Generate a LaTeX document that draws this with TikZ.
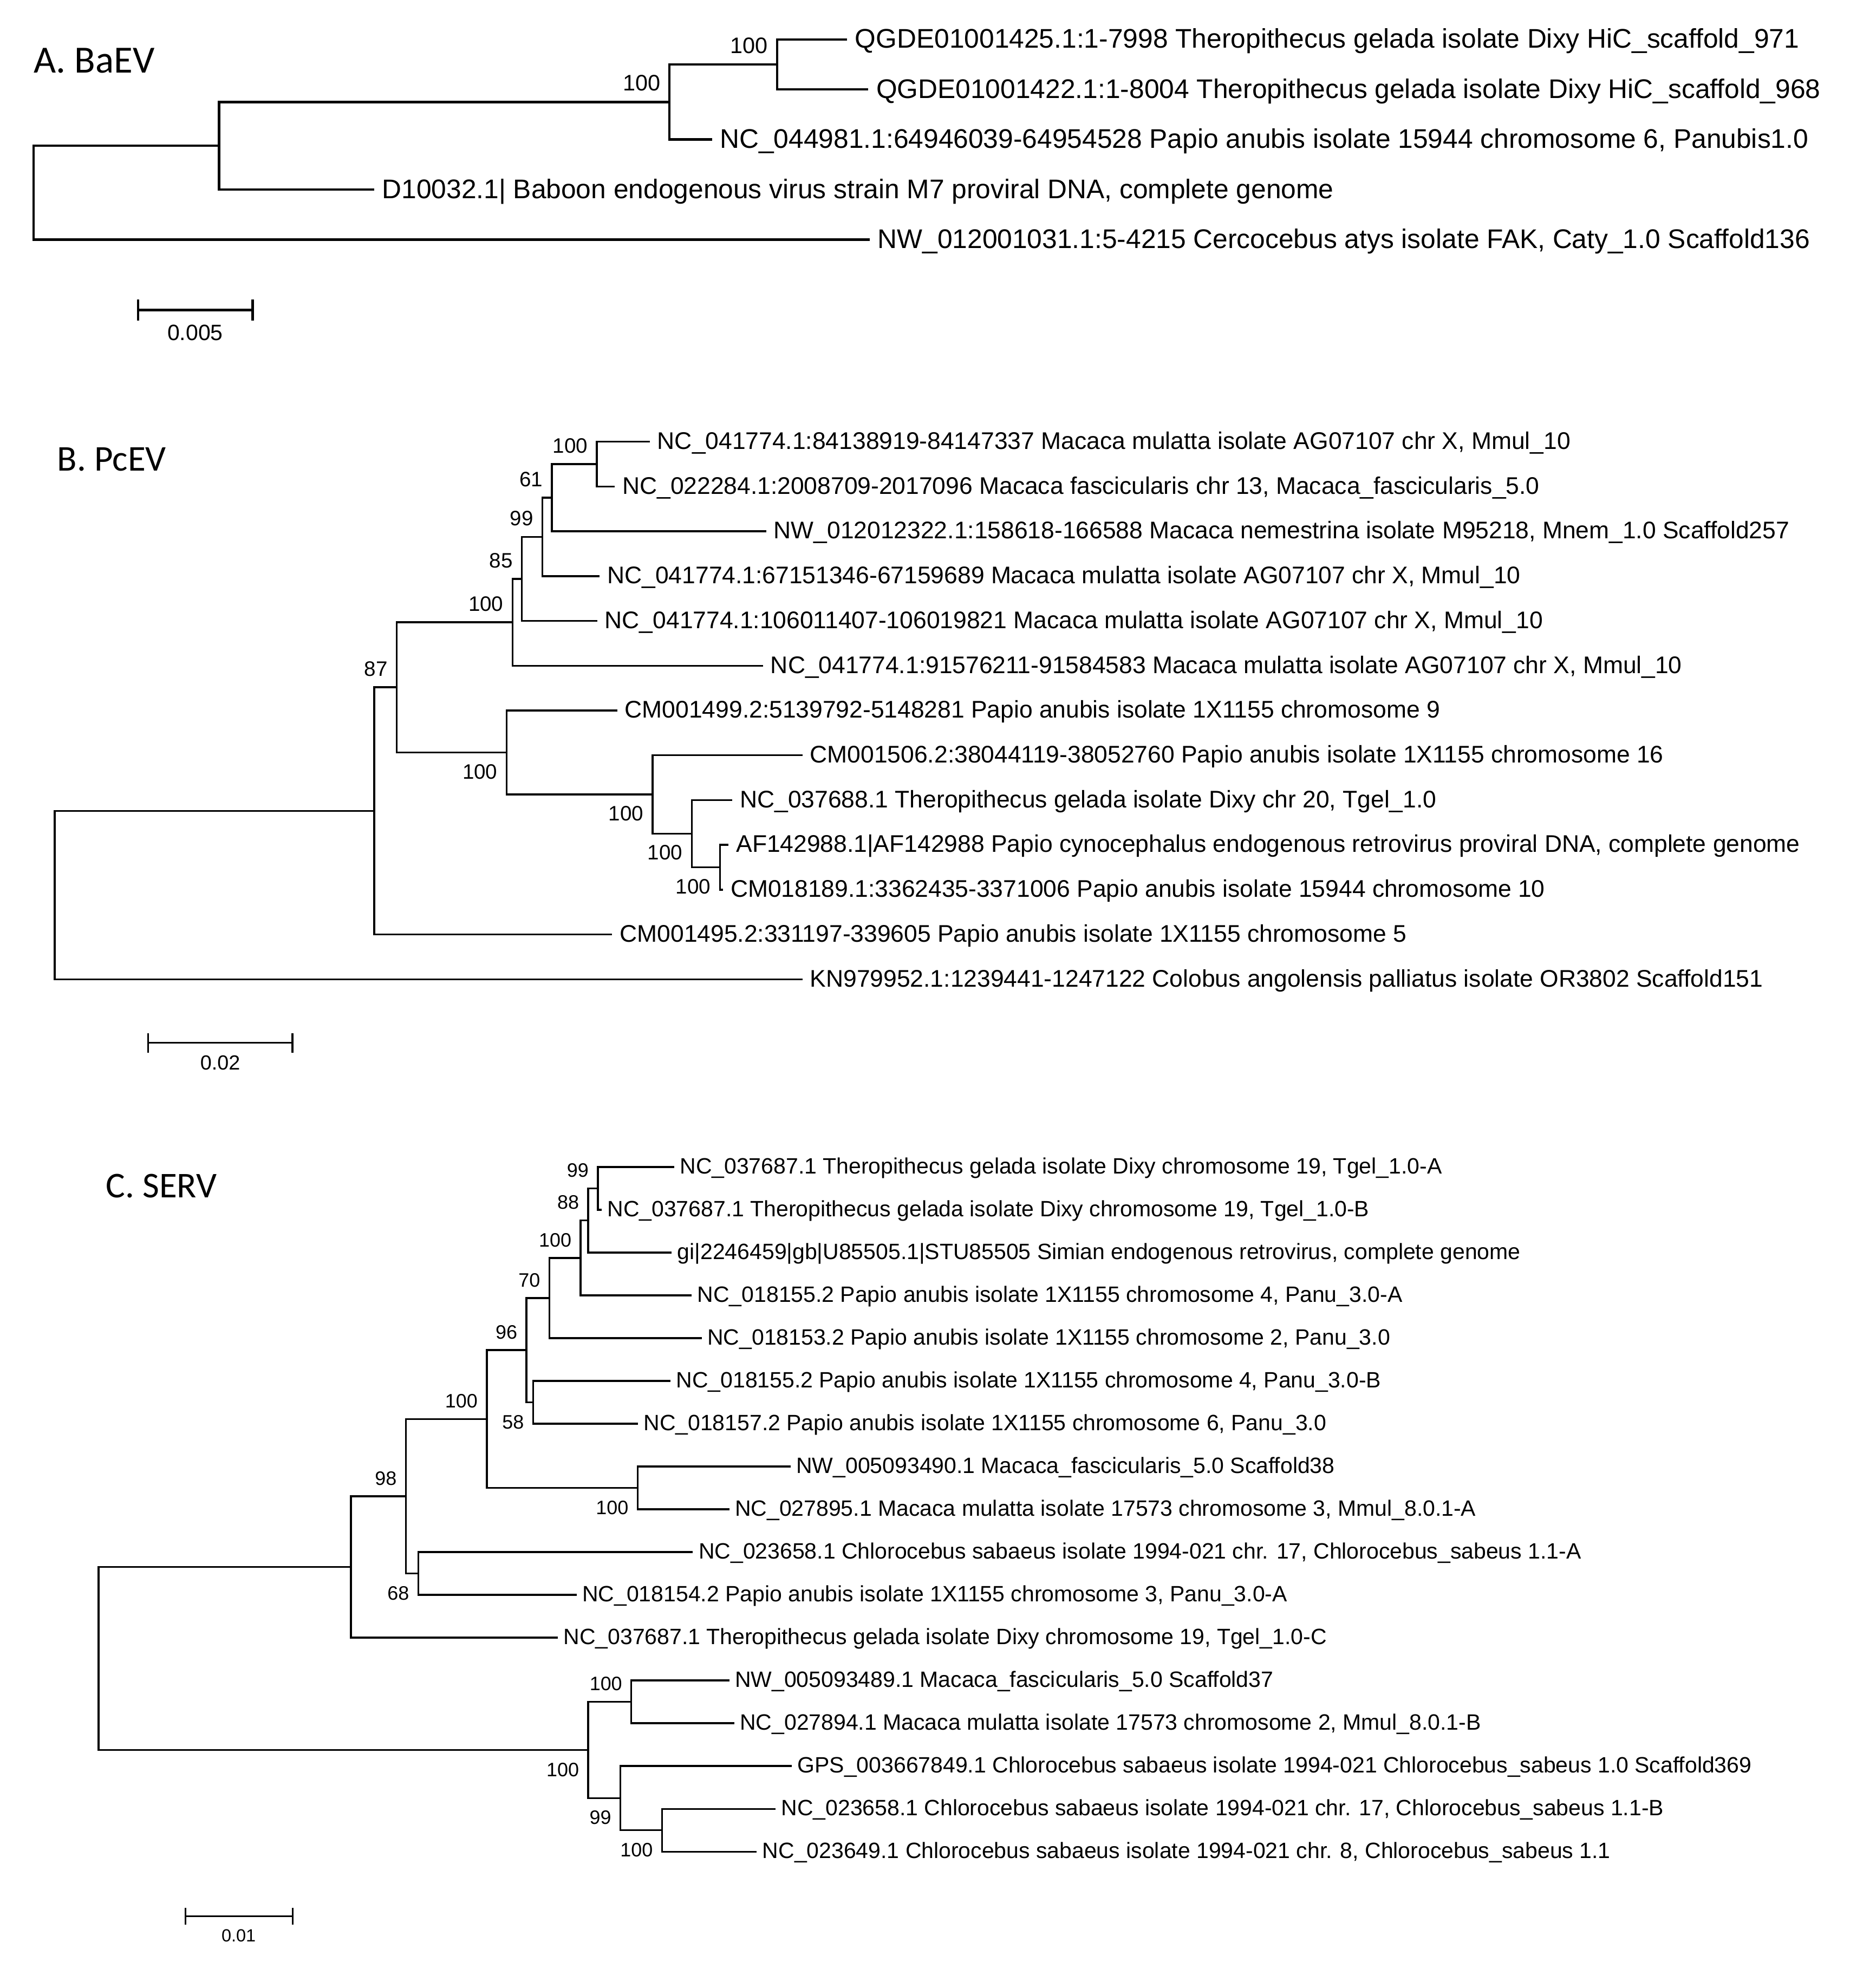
\documentclass[tikz,border=0pt]{standalone}
\usepackage{fontspec}
\setmainfont{Liberation Sans}
\newfontfamily\titlefont{Carlito}
\newcommand\tleaf[5]{\coordinate (#1) at (#2,#3); \node[#4] (#1t) at (#1) {#5};}
\newcommand\bsup[3]{\node[#1, anchor=base east] (#2s) at ([shift={(-7,-9)}]#2) {#3};}
\newcommand\bsdn[3]{\node[#1, anchor=base east] (#2s) at ([shift={(-7,21)}]#2) {#3};}
\tikzset{
  treeA/.style={line width=1.1pt, line cap=rect},
  tree/.style={line width=0.85pt, line cap=rect},
  leafA/.style={anchor=base west, inner sep=0pt, xshift=0.14cm, yshift=-0.14cm, font=\fontsize{12.25}{14}\selectfont},
  leafB/.style={anchor=base west, inner sep=0pt, xshift=0.13cm, yshift=-0.12cm, font=\fontsize{10.94}{13}\selectfont},
  leafC/.style={anchor=base west, inner sep=0pt, xshift=0.10cm, yshift=-0.11cm, font=\fontsize{10.09}{12}\selectfont},
  bsA/.style={inner sep=0pt, font=\fontsize{10.2}{12}\selectfont},
  bsB/.style={inner sep=0pt, font=\fontsize{9.5}{11}\selectfont},
  bsC/.style={inner sep=0pt, font=\fontsize{8.85}{10}\selectfont},
  ttl/.style={anchor=west, inner sep=0pt, font=\titlefont\fontsize{17}{20}\selectfont},
  sclbl/.style={inner sep=0pt},
}
\begin{document}
\begin{tikzpicture}[x=0.02cm,y=-0.02cm]
\useasboundingbox (0,0) rectangle (1499,1568);

% ================= Panel A =================
\node[ttl, font=\titlefont\fontsize{17.5}{20}\selectfont] (tA) at (26.7,48.3) {A. BaEV};
\coordinate (rA) at (26.8,154);
\coordinate (nA1) at (175,116.5);
\coordinate (nA2) at (535,81.5);
\coordinate (nA3) at (621,51.5);
\tleaf{a1}{676}{31.5}{leafA}{QGDE01001425.1:1-7998 Theropithecus gelada isolate Dixy HiC\_scaffold\_971}
\tleaf{a2}{693}{71.5}{leafA}{QGDE01001422.1:1-8004 Theropithecus gelada isolate Dixy HiC\_scaffold\_968}
\tleaf{a3}{568}{111.5}{leafA}{NC\_044981.1:64946039-64954528 Papio anubis isolate 15944 chromosome 6, Panubis1.0}
\tleaf{a4}{298}{151.5}{leafA}{D10032.1| Baboon endogenous virus strain M7 proviral DNA, complete genome}
\tleaf{a5}{694}{191.5}{leafA}{NW\_012001031.1:5-4215 Cercocebus atys isolate FAK, Caty\_1.0 Scaffold136}
\draw[treeA] (rA) |- (nA1) (rA) |- (a5)
  (nA1) |- (nA2) (nA1) |- (a4)
  (nA2) |- (nA3) (nA2) |- (a3)
  (nA3) |- (a1) (nA3) |- (a2);
\bsup{bsA}{nA3}{100}
\bsup{bsA}{nA2}{100}
% scale A
\coordinate (sA1) at (110.3,247.8);
\coordinate (sA2) at (201.9,247.8);
\draw[treeA] (sA1) -- (sA2)
  ([shift={(0,-7.5)}]sA1) -- ([shift={(0,7.5)}]sA1)
  ([shift={(0,-7.5)}]sA2) -- ([shift={(0,7.5)}]sA2);
\node[sclbl, font=\fontsize{10.1}{12}\selectfont] (sAl) at (156,266) {0.005};

% ================= Panel B =================
\node[ttl, font=\titlefont\fontsize{16.5}{20}\selectfont] (tB) at (45.5,367) {B. PcEV};
\coordinate (ba) at (477,370.9);
\coordinate (bb) at (441,397.75);
\coordinate (bc) at (433.5,429.1);
\coordinate (bd) at (417,462.6);
\coordinate (be) at (409.6,497.3);
\coordinate (bk) at (575.3,693.1);
\coordinate (bj) at (552.8,666.25);
\coordinate (bi) at (521.6,634.9);
\coordinate (bf) at (404.8,601.35);
\coordinate (bg) at (317,549.3);
\coordinate (bh) at (299,648.05);
\coordinate (rB) at (43.8,715.3);
\tleaf{b1}{518.5}{353}{leafB}{NC\_041774.1:84138919-84147337 Macaca mulatta isolate AG07107 chr X, Mmul\_10}
\tleaf{b2}{490.5}{388.8}{leafB}{NC\_022284.1:2008709-2017096 Macaca fascicularis chr 13, Macaca\_fascicularis\_5.0}
\tleaf{b3}{611.5}{424.6}{leafB}{NW\_012012322.1:158618-166588 Macaca nemestrina isolate M95218, Mnem\_1.0 Scaffold257}
\tleaf{b4}{478.5}{460.4}{leafB}{NC\_041774.1:67151346-67159689 Macaca mulatta isolate AG07107 chr X, Mmul\_10}
\tleaf{b5}{476.5}{496.2}{leafB}{NC\_041774.1:106011407-106019821 Macaca mulatta isolate AG07107 chr X, Mmul\_10}
\tleaf{b6}{609}{532}{leafB}{NC\_041774.1:91576211-91584583 Macaca mulatta isolate AG07107 chr X, Mmul\_10}
\tleaf{b7}{492.5}{567.8}{leafB}{CM001499.2:5139792-5148281 Papio anubis isolate 1X1155 chromosome 9}
\tleaf{b8}{640.5}{603.6}{leafB}{CM001506.2:38044119-38052760 Papio anubis isolate 1X1155 chromosome 16}
\tleaf{b9}{584.5}{639.4}{leafB}{NC\_037688.1 Theropithecus gelada isolate Dixy chr 20, Tgel\_1.0}
\tleaf{b10}{581.5}{675.2}{leafB}{AF142988.1|AF142988 Papio cynocephalus endogenous retrovirus proviral DNA, complete genome}
\tleaf{b11}{577}{711}{leafB}{CM018189.1:3362435-3371006 Papio anubis isolate 15944 chromosome 10}
\tleaf{b12}{488.5}{746.8}{leafB}{CM001495.2:331197-339605 Papio anubis isolate 1X1155 chromosome 5}
\tleaf{b13}{640.5}{782.6}{leafB}{KN979952.1:1239441-1247122 Colobus angolensis palliatus isolate OR3802 Scaffold151}
\draw[tree] (rB) |- (bh) (rB) |- (b13)
  (bh) |- (bg) (bh) |- (b12)
  (bg) |- (be) (bg) |- (bf)
  (be) |- (bd) (be) |- (b6)
  (bd) |- (bc) (bd) |- (b5)
  (bc) |- (bb) (bc) |- (b4)
  (bb) |- (ba) (bb) |- (b3)
  (ba) |- (b1) (ba) |- (b2)
  (bf) |- (b7) (bf) |- (bi)
  (bi) |- (b8) (bi) |- (bj)
  (bj) |- (b9) (bj) |- (bk)
  (bk) |- (b10) (bk) |- (b11);
\bsup{bsB}{ba}{100}
\bsup{bsB}{bb}{61}
\bsup{bsB}{bc}{99}
\bsup{bsB}{bd}{85}
\bsup{bsB}{be}{100}
\bsup{bsB}{bg}{87}
\bsdn{bsB}{bf}{100}
\bsdn{bsB}{bi}{100}
\bsdn{bsB}{bj}{100}
\bsdn{bsB}{bk}{100}
% scale B
\coordinate (sB1) at (118.4,833.4);
\coordinate (sB2) at (233.7,833.4);
\draw[tree] (sB1) -- (sB2)
  ([shift={(0,-7)}]sB1) -- ([shift={(0,7)}]sB1)
  ([shift={(0,-7)}]sB2) -- ([shift={(0,7)}]sB2);
\node[sclbl, font=\fontsize{9.3}{11}\selectfont] (sBl) at (176,849.5) {0.02};

% ================= Panel C =================
\node[ttl, font=\titlefont\fontsize{16.5}{20}\selectfont] (tC) at (84.4,948) {C. SERV};
\coordinate (cA1) at (477.7,949.7);
\coordinate (cA2) at (470,975.35);
\coordinate (cA3) at (464,1005.3);
\coordinate (cA4) at (439,1037.3);
\coordinate (cA6) at (426,1120.7);
\coordinate (cA5) at (420.7,1079);
\coordinate (cA8) at (509.5,1189.1);
\coordinate (cA7) at (389,1134.05);
\coordinate (c68) at (334.3,1257.5);
\coordinate (c98) at (324.3,1195.8);
\coordinate (c280) at (280.4,1252.3);
\coordinate (cB2) at (504.5,1360.1);
\coordinate (cB4) at (529,1462.7);
\coordinate (cB3) at (495.8,1437.05);
\coordinate (cB1) at (470,1398.6);
\coordinate (rC) at (78.7,1325.45);
\tleaf{c1}{538}{932.6}{leafC}{NC\_037687.1 Theropithecus gelada isolate Dixy chromosome 19, Tgel\_1.0-A}
\tleaf{c2}{480}{966.8}{leafC}{NC\_037687.1 Theropithecus gelada isolate Dixy chromosome 19, Tgel\_1.0-B}
\tleaf{c3}{536}{1001}{leafC}{gi|2246459|gb|U85505.1|STU85505 Simian endogenous retrovirus, complete genome}
\tleaf{c4}{552}{1035.2}{leafC}{NC\_018155.2 Papio anubis isolate 1X1155 chromosome 4, Panu\_3.0-A}
\tleaf{c5}{560}{1069.4}{leafC}{NC\_018153.2 Papio anubis isolate 1X1155 chromosome 2, Panu\_3.0}
\tleaf{c6}{535}{1103.6}{leafC}{NC\_018155.2 Papio anubis isolate 1X1155 chromosome 4, Panu\_3.0-B}
\tleaf{c7}{509}{1137.8}{leafC}{NC\_018157.2 Papio anubis isolate 1X1155 chromosome 6, Panu\_3.0}
\tleaf{c8}{631}{1172}{leafC}{NW\_005093490.1 Macaca\_fascicularis\_5.0 Scaffold38}
\tleaf{c9}{582}{1206.2}{leafC}{NC\_027895.1 Macaca mulatta isolate 17573 chromosome 3, Mmul\_8.0.1-A}
\tleaf{c10}{553}{1240.4}{leafC}{NC\_023658.1 Chlorocebus sabaeus isolate 1994-021 chr. 17, Chlorocebus\_sabeus 1.1-A}
\tleaf{c11}{460}{1274.6}{leafC}{NC\_018154.2 Papio anubis isolate 1X1155 chromosome 3, Panu\_3.0-A}
\tleaf{c12}{445}{1308.8}{leafC}{NC\_037687.1 Theropithecus gelada isolate Dixy chromosome 19, Tgel\_1.0-C}
\tleaf{c13}{582}{1343}{leafC}{NW\_005093489.1 Macaca\_fascicularis\_5.0 Scaffold37}
\tleaf{c14}{586}{1377.2}{leafC}{NC\_027894.1 Macaca mulatta isolate 17573 chromosome 2, Mmul\_8.0.1-B}
\tleaf{c15}{632}{1411.4}{leafC}{GPS\_003667849.1 Chlorocebus sabaeus isolate 1994-021 Chlorocebus\_sabeus 1.0 Scaffold369}
\tleaf{c16}{619}{1445.6}{leafC}{NC\_023658.1 Chlorocebus sabaeus isolate 1994-021 chr. 17, Chlorocebus\_sabeus 1.1-B}
\tleaf{c17}{604}{1479.8}{leafC}{NC\_023649.1 Chlorocebus sabaeus isolate 1994-021 chr. 8, Chlorocebus\_sabeus 1.1}
\draw[tree] (rC) |- (c280) (rC) |- (cB1)
  (c280) |- (c98) (c280) |- (c12)
  (c98) |- (cA7) (c98) |- (c68)
  (c68) |- (c10) (c68) |- (c11)
  (cA7) |- (cA5) (cA7) |- (cA8)
  (cA8) |- (c8) (cA8) |- (c9)
  (cA5) |- (cA4) (cA5) |- (cA6)
  (cA6) |- (c6) (cA6) |- (c7)
  (cA4) |- (cA3) (cA4) |- (c5)
  (cA3) |- (cA2) (cA3) |- (c4)
  (cA2) |- (cA1) (cA2) |- (c3)
  (cA1) |- (c1) (cA1) |- (c2)
  (cB1) |- (cB2) (cB1) |- (cB3)
  (cB2) |- (c13) (cB2) |- (c14)
  (cB3) |- (c15) (cB3) |- (cB4)
  (cB4) |- (c16) (cB4) |- (c17);
\bsup{bsC}{cA1}{99}
\bsup{bsC}{cA2}{88}
\bsup{bsC}{cA3}{100}
\bsup{bsC}{cA4}{70}
\bsup{bsC}{cA5}{96}
\bsdn{bsC}{cA6}{58}
\bsup{bsC}{cA7}{100}
\bsdn{bsC}{cA8}{100}
\bsup{bsC}{c98}{98}
\bsdn{bsC}{c68}{68}
\bsdn{bsC}{cB1}{100}
\bsup{bsC}{cB2}{100}
\bsdn{bsC}{cB3}{99}
\bsdn{bsC}{cB4}{100}
% scale C
\coordinate (sC1) at (148.3,1531.5);
\coordinate (sC2) at (234,1531.5);
\draw[tree] (sC1) -- (sC2)
  ([shift={(0,-6)}]sC1) -- ([shift={(0,6)}]sC1)
  ([shift={(0,-6)}]sC2) -- ([shift={(0,6)}]sC2);
\node[sclbl, font=\fontsize{8}{10}\selectfont] (sCl) at (190.7,1547) {0.01};
\end{tikzpicture}
\end{document}
